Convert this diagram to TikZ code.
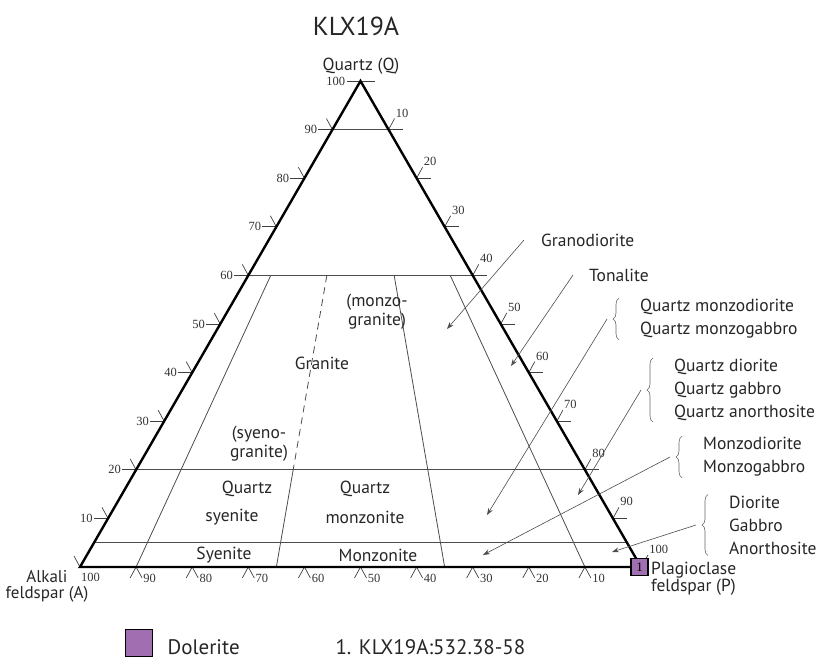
\documentclass[tikz,border=0pt]{standalone}
\usepackage{fontspec}
\setmainfont{Liberation Serif}
\setsansfont{PT Sans}
\usepackage{tikz}
\usetikzlibrary{calc,arrows.meta,decorations.pathreplacing}

\definecolor{dolerite}{RGB}{161,111,177}
\tikzset{
  rim/.style={line width=2.4pt},
  field/.style={black!70, line width=0.8pt},
  tick/.style={black!75, line width=0.7pt},
  ticklabel/.style={font=\fontsize{12.5}{12.5}\selectfont, text=black!80, inner sep=1pt},
  fieldlabel/.style={font=\sffamily\fontsize{17.5}{19}\selectfont, text=black!85, align=center, inner sep=1pt},
  rocklabel/.style={font=\sffamily\fontsize{17.5}{23}\selectfont, text=black!85, align=left, anchor=west, inner sep=1pt},
  pointer/.style={black!70, line width=0.6pt, -{Stealth[length=7pt,width=5pt]}},
  rockbrace/.style={black!60, line width=0.6pt, decorate, decoration={brace, amplitude=6pt}},
}

\begin{document}
\begin{tikzpicture}[x=1pt,y=-1pt]
        \useasboundingbox (0,0) rectangle (818,660);
        % Corners of the QAP triangle
        \coordinate (A) at (80,567);
        \coordinate (P) at (641,567);
        \coordinate (Q) at (360.5,81);
        \foreach \q in {90,60,20,5} {
            \coordinate (L\q) at ($(A)!\q/100!(Q)$);
            \coordinate (R\q) at ($(P)!\q/100!(Q)$);
        }
        % Field boundaries
        \foreach \q in {90,60,20,5} \draw[field] (L\q) -- (R\q);
        \foreach \p in {10,65,90} \draw[field] ($(L60)!\p/100!(R60)$) -- ($(A)!\p/100!(P)$);
        \draw[field, dash pattern=on 7pt off 5pt] ($(L60)!0.35!(R60)$) -- ($(L20)!0.35!(R20)$);
        \draw[field] ($(L20)!0.35!(R20)$) -- ($(A)!0.35!(P)$);
        % Add values to the three sides
        \foreach \k [evaluate=\k as \n using int(100-10*\k)] in {1,...,9} {
            \draw[tick] ($(A)!\k/10!(Q)$) -- ++(-14,0) node[ticklabel, left] (ql\k) {\k0};
            \draw[tick] ($(A)!\k/10!(Q)$) -- ++(-6,-11);
            \draw[tick] ($(Q)!\k/10!(P)$) -- ++(14,0);
            \draw[tick] ($(Q)!\k/10!(P)$) -- ++(6,-11) node[ticklabel, anchor=south west] (pl\k) {\k0};
            \draw[tick] ($(A)!\k/10!(P)$) -- ++(-6,11);
            \draw[tick] ($(A)!\k/10!(P)$) -- ++(6,11) node[ticklabel, right] (al\k) {\n};
        }
        \draw[tick] (Q) -- ++(-14,0) node[ticklabel, left] (ql10) {100};
        \draw[tick] (Q) -- ++(14,0);
        \draw[tick] (A) -- ++(-6,-11);
        \node[ticklabel, right, inner sep=0pt] (al10) at ($(A)+(1,10)$) {100};
        \draw[tick] (P) -- ++(7,-12) node[ticklabel, anchor=south west] (pl10) {100};
        % Triangle
        \draw[rim] (A) -- (Q) -- (P) -- cycle;
        % Corner and field names
        \node[font=\sffamily\fontsize{26}{26}\selectfont, text=black!85] (title) at (356,26) {KLX19A};
        \node[fieldlabel] (qz) at (361,66) {Quartz (Q)};
        \node[fieldlabel, font=\sffamily\fontsize{17}{16}\selectfont] (alk) at (47,586) {Alkali\\feldspar (A)};
        \node[fieldlabel, font=\sffamily\fontsize{17.5}{16}\selectfont, align=left, anchor=west] (plag) at (650,579) {Plagioclase\\feldspar (P)};
        \node[fieldlabel] (monzogr) at (377,312) {(monzo-\\granite)};
        \node[fieldlabel] (gran) at (322,363) {Granite};
        \node[fieldlabel] (syenogr) at (259,444) {(syeno-\\granite)};
        \node[fieldlabel] (qsyA) at (247,489) {Quartz};
        \node[fieldlabel] (qsyB) at (232,517) {syenite};
        \node[fieldlabel] (qmzA) at (365,489) {Quartz};
        \node[fieldlabel] (qmzB) at (365,517) {monzonite};
        \node[fieldlabel] (sy) at (224,555) {Syenite};
        \node[fieldlabel] (mz) at (378,555) {Monzonite};
        % Rock names outside the triangle
        \node[rocklabel] (grano) at (540,240) {Granodiorite};
        \node[rocklabel] (tonal) at (588,275) {Tonalite};
        \node[rocklabel] (qmd) at (639,319) {Quartz monzodiorite\\Quartz monzogabbro};
        \node[rocklabel] (qd) at (673,390) {Quartz diorite\\Quartz gabbro\\Quartz anorthosite};
        \node[rocklabel] (mzd) at (702,457) {Monzodiorite\\Monzogabbro};
        \node[rocklabel] (dio) at (728,525) {Diorite\\Gabbro\\Anorthosite};
        \coordinate (granoTip) at (447,329);
        \coordinate (tonalTip) at (511,366);
        \coordinate (qmdTip) at (487,515);
        \coordinate (qdTip) at (578,495);
        \coordinate (mzdTip) at (483,555);
        \coordinate (dioTip) at (612,552);
        \draw[pointer] ([xshift=-16pt]grano.west) -- (granoTip);
        \draw[pointer] ([xshift=-15pt]tonal.west) -- (tonalTip);
        \foreach \r in {qmd,qd,mzd,dio} {
            \draw[rockbrace] ([xshift=-20pt]\r.south west) -- ([xshift=-20pt]\r.north west);
            \draw[pointer] ([xshift=-32pt]\r.west) -- (\r Tip);
        }
        % Sample and legend
        \node[draw, fill=dolerite, minimum size=17pt, inner sep=0pt, line width=1.2pt, font=\fontsize{13}{13}\selectfont] (s1) at (639.5,567) {1};
        \node[draw, fill=dolerite, minimum size=27pt, inner sep=0pt, line width=1.2pt] (key) at (139,643) {};
        \node[font=\sffamily\fontsize{21}{21}\selectfont, text=black!85, anchor=west] (keytext) at (164,647) {Dolerite};
        \node[font=\sffamily\fontsize{21}{21}\selectfont, text=black!85, anchor=west] (sample) at (332,647) {1. KLX19A:532.38-58};
\end{tikzpicture}
\end{document}
